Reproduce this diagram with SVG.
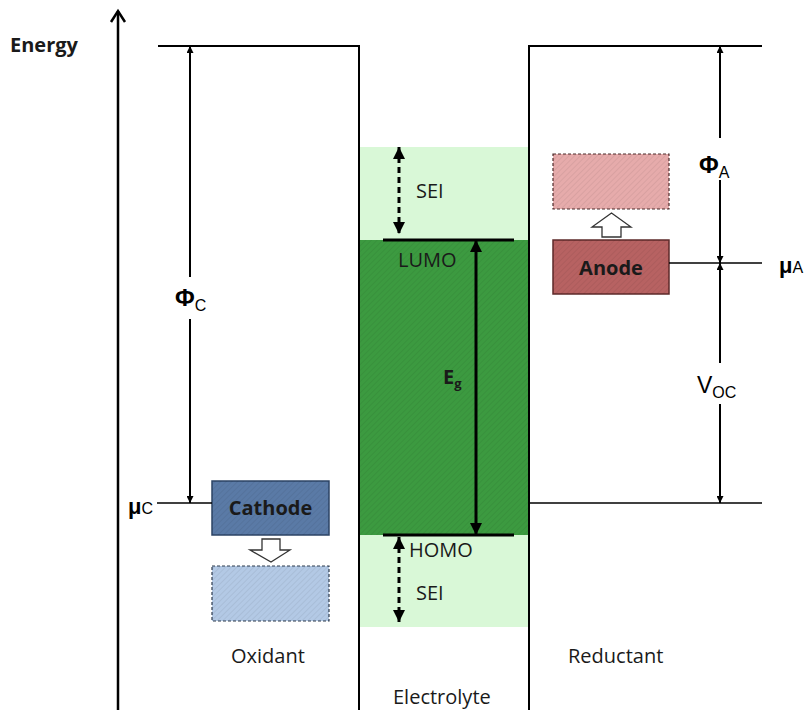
<svg xmlns="http://www.w3.org/2000/svg" width="808" height="710" viewBox="0 0 808 710">
<style>
.ln{stroke:#000;fill:none}
.t{font-family:"Open Sans","Liberation Sans",sans-serif;font-size:20px;fill:#1a1a1a}
.b{font-weight:bold}
.sym{font-family:"Liberation Sans",Arial,sans-serif;fill:#000}
</style>
<defs>
<marker id="ah" viewBox="0 0 10 10" refX="10" refY="5" markerWidth="7" markerHeight="7" markerUnits="userSpaceOnUse" orient="auto-start-reverse"><path d="M0,0 L10,5 L0,10 z" fill="#000"/></marker>
<marker id="ahb" viewBox="0 0 10 10" refX="10" refY="5" markerWidth="4" markerHeight="4" orient="auto-start-reverse"><path d="M0,0 L10,5 L0,10 z" fill="#000"/></marker>
<pattern id="hatch" width="4" height="4" patternUnits="userSpaceOnUse" patternTransform="rotate(45)"><rect width="4" height="4" fill="none"/><line x1="0" y1="0" x2="0" y2="4" stroke="#000" stroke-opacity="0.08" stroke-width="1.5"/></pattern>
</defs>

<g id="axis">
<line class="ln" x1="118" y1="11" x2="118" y2="710" stroke-width="2.5"/>
<polyline class="ln" points="111,22 118,11 125,22" stroke-width="2.5"/>
<text class="t b" x="10" y="52" font-size="21">Energy</text>
</g>

<g id="electrolyte">
<rect x="360" y="147" width="168" height="480" fill="#d9f8d7"/>
<rect x="360" y="240" width="168" height="295" fill="#3c9a40"/>
<rect x="360" y="240" width="168" height="295" fill="url(#hatch)"/>
<text class="t" x="393" y="704">Electrolyte</text>
</g>

<g id="walls">
<polyline class="ln" points="158,46 359,46 359,710" stroke-width="2"/>
<polyline class="ln" points="762,46 529,46 529,710" stroke-width="2"/>
<line class="ln" x1="529" y1="503" x2="762" y2="503" stroke-width="1.3"/>
</g>

<g id="lumo">
<line class="ln" x1="383" y1="240" x2="514" y2="240" stroke-width="3"/>
<text class="t" x="398" y="267">LUMO</text>
</g>
<g id="homo">
<line class="ln" x1="383" y1="535" x2="514" y2="535" stroke-width="3"/>
<text class="t" x="409" y="557">HOMO</text>
</g>
<g id="sei-top">
<text class="t" x="416" y="198">SEI</text>
</g>
<g id="sei-bottom">
<text class="t" x="416" y="600">SEI</text>
</g>
<g id="eg-label">
<text class="t b" x="443" y="384">E<tspan font-size="13" dy="4">g</tspan></text>
</g>

<g id="cathode">
<rect x="212" y="481" width="117" height="54" fill="#5a7aa6" stroke="#2c4466" stroke-width="1.5"/>
<rect x="212" y="481" width="117" height="54" fill="url(#hatch)"/>
<text class="t b" x="270.5" y="515" text-anchor="middle" fill="#0d1a2a">Cathode</text>
</g>
<g id="cathode-oxidized">
<rect x="212" y="566" width="117" height="55" fill="#b3c9e5" stroke="#2c3a4d" stroke-width="1.2" stroke-dasharray="3,2"/>
<rect x="212" y="566" width="117" height="55" fill="url(#hatch)"/>
</g>
<g id="oxidant"><text class="t" x="231" y="663">Oxidant</text></g>

<g id="anode">
<rect x="553" y="240" width="116" height="54" fill="#b76262" stroke="#5e2a2a" stroke-width="1.5"/>
<rect x="553" y="240" width="116" height="54" fill="url(#hatch)"/>
<text class="t b" x="611" y="275" text-anchor="middle" fill="#1a0a0a">Anode</text>
</g>
<g id="anode-reduced">
<rect x="553" y="154" width="116" height="55" fill="#e6abab" stroke="#4d2a2a" stroke-width="1.2" stroke-dasharray="3,2"/>
<rect x="553" y="154" width="116" height="55" fill="url(#hatch)"/>
</g>
<g id="reductant"><text class="t" x="568" y="663">Reductant</text></g>

<g id="labels">
<text class="sym" x="175" y="306" font-size="24" font-weight="bold">Φ<tspan font-size="16" font-weight="normal" dy="5">C</tspan></text>
<text class="sym" x="128" y="514" font-size="22" font-weight="bold">μ<tspan font-size="16" font-weight="normal">C</tspan></text>
<text class="sym" x="699" y="173" font-size="24" font-weight="bold">Φ<tspan font-size="16" font-weight="normal" dy="5">A</tspan></text>
<text class="sym" x="779" y="273" font-size="22" font-weight="bold">μ<tspan font-size="16" font-weight="normal">A</tspan></text>
<text class="sym" x="697" y="393" font-size="23">V<tspan font-size="16" dy="5">OC</tspan></text>
</g>

<g id="connectors">
<line class="ln" x1="157" y1="503" x2="212" y2="503" stroke-width="1.3"/>
<line class="ln" x1="669" y1="263" x2="762" y2="263" stroke-width="1.3"/>
<line class="ln" x1="190" y1="277" x2="190" y2="46" stroke-width="2" marker-end="url(#ah)"/>
<line class="ln" x1="190" y1="319" x2="190" y2="503" stroke-width="2" marker-end="url(#ah)"/>
<line class="ln" x1="720" y1="138" x2="720" y2="46" stroke-width="2" marker-end="url(#ah)"/>
<line class="ln" x1="720" y1="180" x2="720" y2="263" stroke-width="2" marker-end="url(#ah)"/>
<line class="ln" x1="720" y1="363" x2="720" y2="263" stroke-width="2" marker-end="url(#ah)"/>
<line class="ln" x1="720" y1="404" x2="720" y2="503" stroke-width="2" marker-end="url(#ah)"/>
<line class="ln" x1="476" y1="240" x2="476" y2="535" stroke-width="3" marker-start="url(#ahb)" marker-end="url(#ahb)"/>
<line class="ln" x1="399" y1="147" x2="399" y2="234" stroke-width="3" stroke-dasharray="6,4" marker-start="url(#ahb)" marker-end="url(#ahb)"/>
<line class="ln" x1="399" y1="537" x2="399" y2="622" stroke-width="3" stroke-dasharray="6,4" marker-start="url(#ahb)" marker-end="url(#ahb)"/>
<path d="M262,539 H280 V550 H290 L271,562 L250,550 H262 Z" fill="#fff" stroke="#333" stroke-width="1.3"/>
<path d="M602,237 H621 V227 H631 L611.5,213 L592,227 H602 Z" fill="#fff" stroke="#333" stroke-width="1.3"/>
</g>
</svg>
